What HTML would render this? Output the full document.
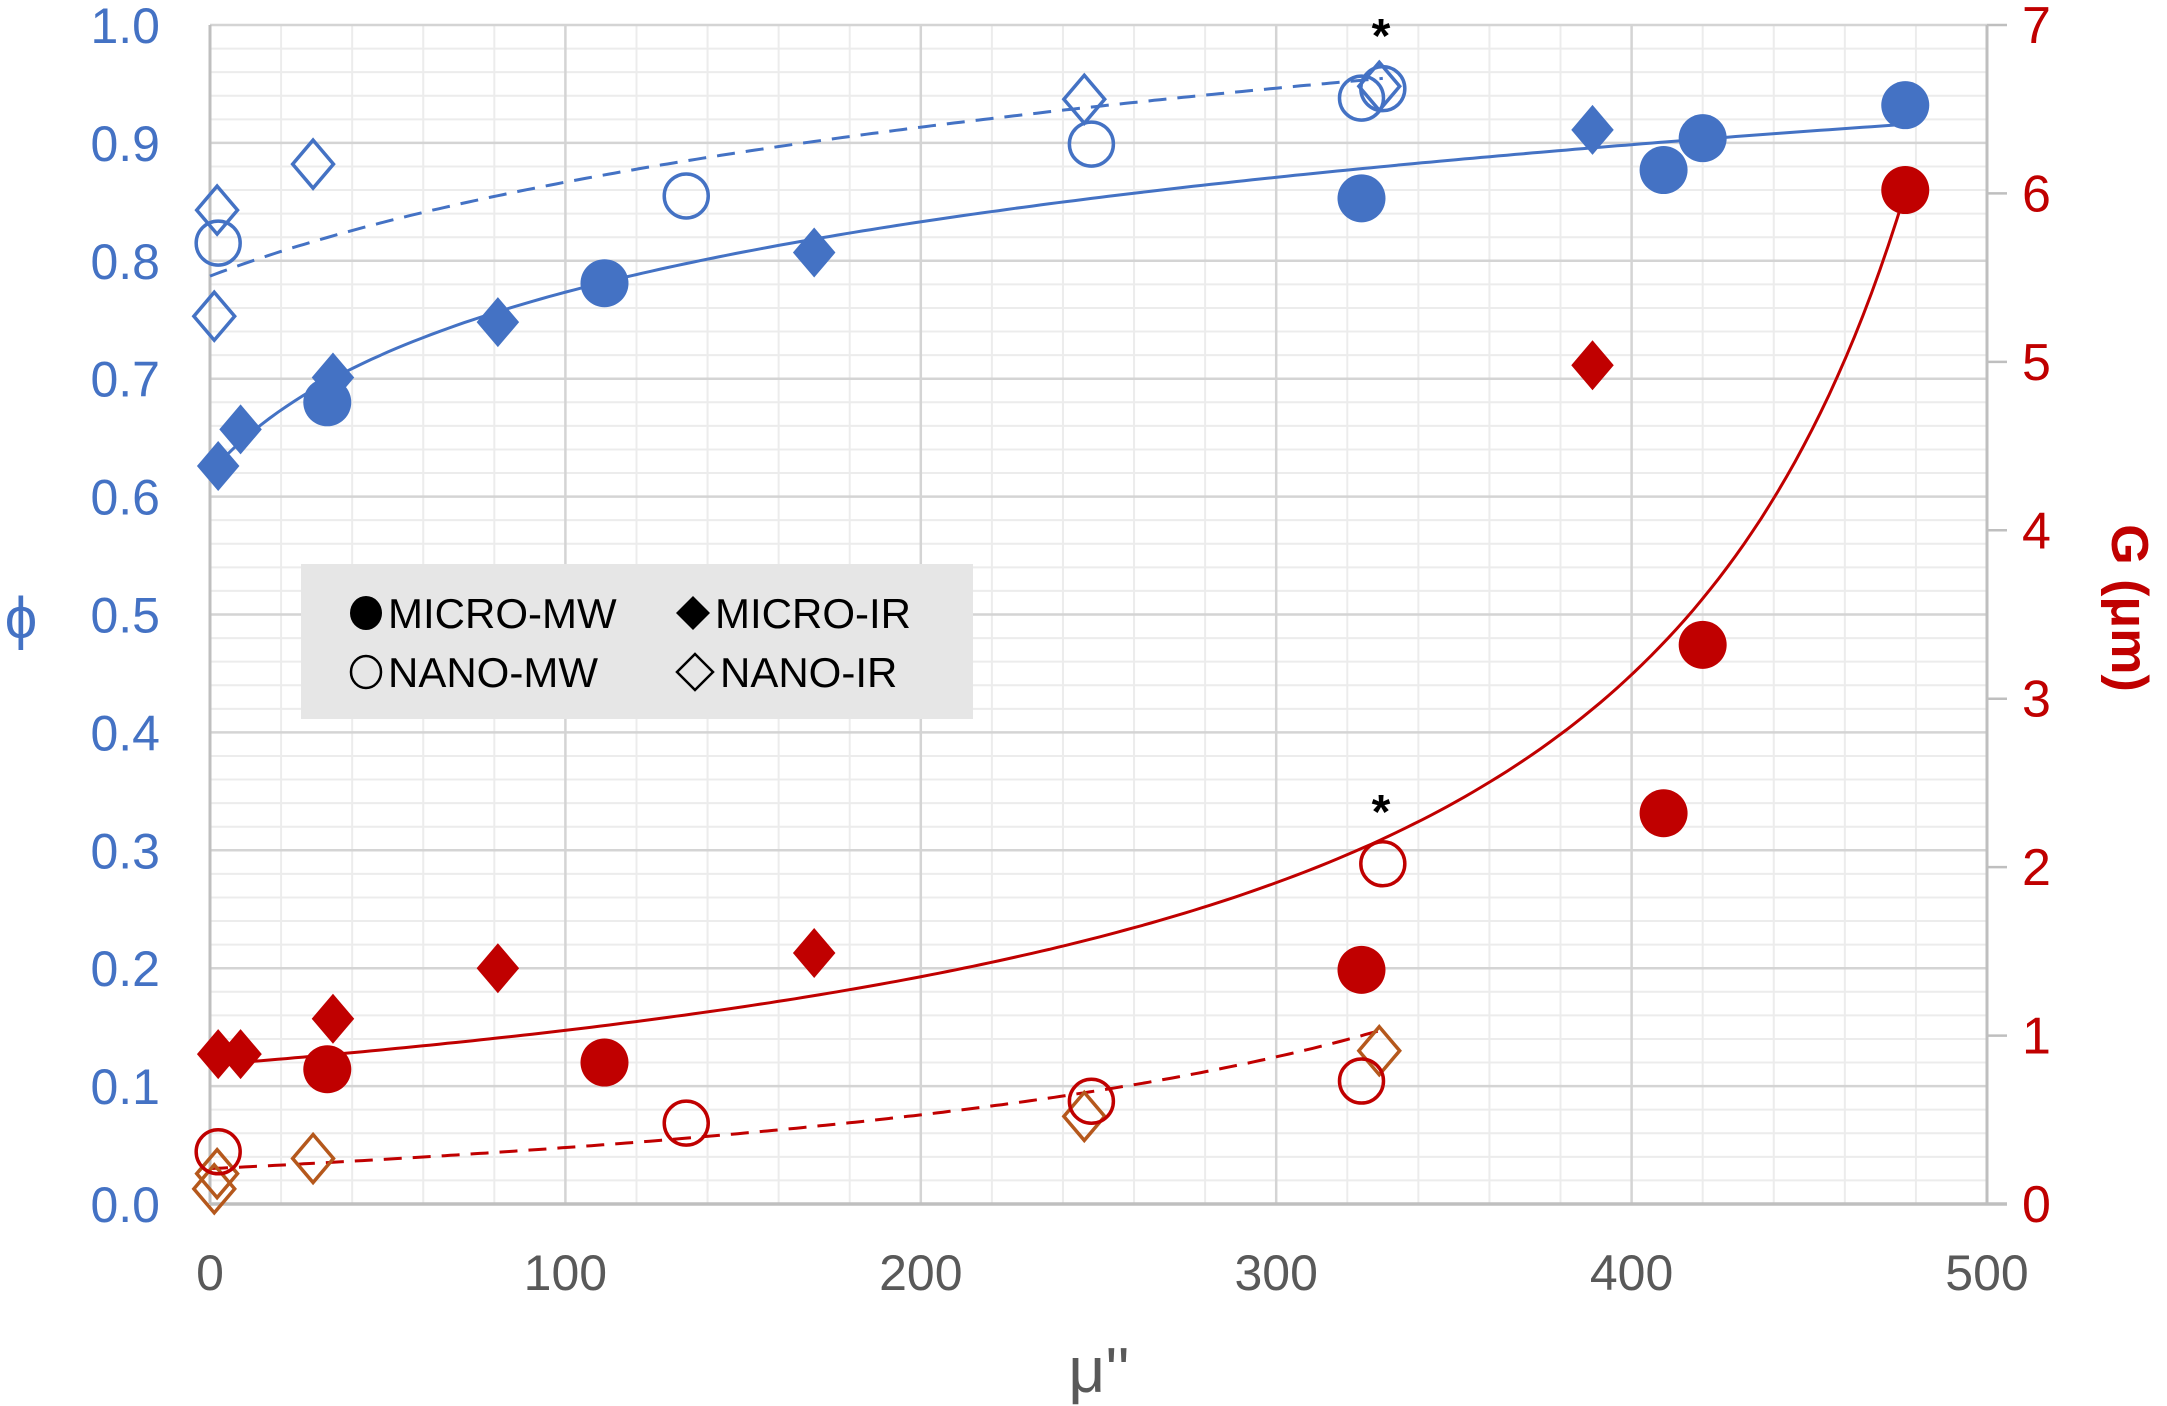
<!DOCTYPE html>
<html><head><meta charset="utf-8"><style>
html,body{margin:0;padding:0;background:#fff;}
svg{display:block;font-family:"Liberation Sans",sans-serif;}
</style></head><body>
<svg id="chart" width="2167" height="1406" viewBox="0 0 2167 1406" xmlns="http://www.w3.org/2000/svg">
<g id="grid"></g>
<g id="axes"></g>
<g id="trends"></g>
<g id="marks"></g>
<text x="21" y="638" font-size="58" fill="#4472c4" text-anchor="middle">ϕ</text>
<text transform="translate(2112,608) rotate(90)" font-size="52" font-weight="bold" fill="#c00000" text-anchor="middle">G (μm)</text>
<text x="1099" y="1392" font-size="64" fill="#595959" text-anchor="middle">μ''</text>
<text x="1381" y="52" font-size="48" font-weight="bold" fill="#000" text-anchor="middle">*</text>
<text x="1381" y="828" font-size="48" font-weight="bold" fill="#000" text-anchor="middle">*</text>
<g>
<rect x="301" y="564" width="672" height="155" fill="#e6e6e6"/>
<g><ellipse cx="366" cy="613" rx="16" ry="17" fill="#000"/><text x="388" y="628" font-size="42" fill="#000">MICRO-MW</text></g>
<g><polygon points="693,596 710,613 693,630 676,613" fill="#000"/><text x="715" y="628" font-size="42" fill="#000">MICRO-IR</text></g>
<g><ellipse cx="366" cy="672" rx="15" ry="16" fill="none" stroke="#000" stroke-width="2.5"/><text x="388" y="687" font-size="42" fill="#000">NANO-MW</text></g>
<g><polygon points="695,654 713,672 695,690 677,672" fill="none" stroke="#000" stroke-width="2.5"/><text x="720" y="687" font-size="42" fill="#000">NANO-IR</text></g>
</g>
</svg>
<script>
// ---- data ----
const phiMicroMwX = [33, 111, 324, 409, 420, 477];
const phiMicroMwY = [0.680, 0.781, 0.853, 0.877, 0.904, 0.932];
const phiMicroIrX = [2.3, 8.6, 34.6, 81, 170, 389];
const phiMicroIrY = [0.626, 0.657, 0.701, 0.748, 0.807, 0.911];
const phiNanoMwX = [2.3, 134, 248, 324, 330];
const phiNanoMwY = [0.815, 0.855, 0.899, 0.938, 0.946];
const phiNanoIrX = [1.2, 2, 29, 246, 329];
const phiNanoIrY = [0.753, 0.843, 0.882, 0.937, 0.948];
const gMicroMwX = [33, 111, 324, 409, 420, 477];
const gMicroMwY = [0.80, 0.84, 1.39, 2.32, 3.32, 6.02];
const gMicroIrX = [2.3, 8.6, 34.6, 81, 170, 389];
const gMicroIrY = [0.89, 0.89, 1.10, 1.40, 1.49, 4.98];
const gNanoMwX = [2.3, 134, 248, 324, 330];
const gNanoMwY = [0.31, 0.48, 0.61, 0.73, 2.02];
const gNanoIrX = [1.2, 2, 29, 246, 329];
const gNanoIrY = [0.09, 0.18, 0.27, 0.52, 0.91];
const xTicks = [0, 100, 200, 300, 400, 500];
const yLeftTicks = ["0.0","0.1","0.2","0.3","0.4","0.5","0.6","0.7","0.8","0.9","1.0"];
const yRightTicks = [0, 1, 2, 3, 4, 5, 6, 7];
// trend model parameters
const phiMicroTrend = {a:0.62, b:0.1046, c:30, x0:0, x1:477};
const phiNanoTrend = {a:0.787, b:0.115, c:100, x0:0, x1:330};
const gMicroTrend = {a:-0.13, b:540, c:565, x0:0, x1:477};
const gNanoTrend = {a:-0.365, b:322, c:560, x0:0, x1:330};

const NS = "http://www.w3.org/2000/svg";
const L = 210, R = 1987, T = 25, B = 1204;
const xs = v => L + (v - 0) / 500 * (R - L);
const yl = v => B - v / 1.0 * (B - T);
const yr = v => B - v / 7 * (B - T);
function mk(tag, attrs, parent) {
  const e = document.createElementNS(NS, tag);
  for (const k in attrs) e.setAttribute(k, attrs[k]);
  parent.appendChild(e); return e;
}
const grid = document.getElementById('grid');
const axes = document.getElementById('axes');
const trends = document.getElementById('trends');
const marks = document.getElementById('marks');

for (let v = 0; v <= 500; v += 20) {
  if (v % 100 === 0) continue;
  const l = mk('line', {x1: xs(v), x2: xs(v), y1: T, y2: B, stroke: '#ececec', 'stroke-width': 2}, grid);
  
  
}
for (let i = 1; i < 50; i++) {
  if (i % 5 === 0) continue;
  const v = i * 0.02;
  const l = mk('line', {x1: L, x2: R, y1: yl(v), y2: yl(v), stroke: '#ececec', 'stroke-width': 2}, grid);
  
  
}
xTicks.forEach(v => {
  const l = mk('line', {x1: xs(v), x2: xs(v), y1: T, y2: B, stroke: '#d4d4d4', 'stroke-width': 2.5}, grid);
  
  
  const t = mk('text', {x: xs(v), y: 1290, 'font-size': 50, fill: '#595959', 'text-anchor': 'middle'}, axes);
  t.textContent = v;
  
  
});
yLeftTicks.forEach(s => {
  const v = parseFloat(s);
  const l = mk('line', {x1: L, x2: R, y1: yl(v), y2: yl(v), stroke: '#d4d4d4', 'stroke-width': 2.5}, grid);
  
  
  const t = mk('text', {x: 160, y: yl(v) + 18, 'font-size': 50, fill: '#4472c4', 'text-anchor': 'end'}, axes);
  t.textContent = s;
  
  
});
yRightTicks.forEach(v => {
  const l = mk('line', {x1: R, x2: R + 20, y1: yr(v), y2: yr(v), stroke: '#bfbfbf', 'stroke-width': 2.5}, axes);
  
  
  const t = mk('text', {x: 2022, y: yr(v) + 18, 'font-size': 52, fill: '#c00000', 'text-anchor': 'start'}, axes);
  t.textContent = v;
  
  
});
const ax1 = mk('line', {x1: L, x2: L, y1: T, y2: B, stroke: '#bfbfbf', 'stroke-width': 3}, axes);


const ax2 = mk('line', {x1: R, x2: R, y1: T, y2: B, stroke: '#bfbfbf', 'stroke-width': 3}, axes);


const ax3 = mk('line', {x1: L, x2: R + 20, y1: B, y2: B, stroke: '#bfbfbf', 'stroke-width': 3.5}, axes);



function logTrend(p, x) { return p.a + p.b * Math.log((x + p.c) / p.c); }
function hypTrend(p, x) { return p.a + p.b / (p.c - x); }
function trendPath(p, f, ysc, color, dash, name) {
  let d = '';
  for (let i = 0; i <= 200; i++) {
    const x = p.x0 + (p.x1 - p.x0) * i / 200;
    d += (i ? 'L' : 'M') + xs(x).toFixed(1) + ',' + ysc(f(p, x)).toFixed(1);
  }
  const e = mk('path', {d: d, fill: 'none', stroke: color, 'stroke-width': 3}, trends);
  if (dash) e.setAttribute('stroke-dasharray', '18,11');
  
  
}
trendPath(phiMicroTrend, logTrend, yl, '#4472c4', false, 'trend-phi-micro');
trendPath(phiNanoTrend, logTrend, yl, '#4472c4', true, 'trend-phi-nano');
trendPath(gMicroTrend, hypTrend, yr, '#c00000', false, 'trend-g-micro');
trendPath(gNanoTrend, hypTrend, yr, '#c00000', true, 'trend-g-nano');

function circles(X, Y, ysc, color, filled, name) {
  X.forEach((x, i) => {
    const e = mk('circle', {cx: xs(x), cy: ysc(Y[i]), r: filled ? 24 : 22,
      fill: filled ? color : 'none', stroke: color, 'stroke-width': filled ? 0 : 3.5}, marks);
    
    
  });
}
function diamonds(X, Y, ysc, color, filled, name) {
  X.forEach((x, i) => {
    const cx = xs(x), cy = ysc(Y[i]), h = filled ? 25 : 24;
    const e = mk('polygon', {points: `${cx},${cy-h} ${cx+h*0.85},${cy} ${cx},${cy+h} ${cx-h*0.85},${cy}`,
      fill: filled ? color : 'none', stroke: color, 'stroke-width': filled ? 0 : 3.5}, marks);
    
    
  });
}
diamonds(phiNanoIrX, phiNanoIrY, yl, '#4472c4', false, 'point-phi-nano-ir');
circles(phiNanoMwX, phiNanoMwY, yl, '#4472c4', false, 'point-phi-nano-mw');
diamonds(phiMicroIrX, phiMicroIrY, yl, '#4472c4', true, 'point-phi-micro-ir');
circles(phiMicroMwX, phiMicroMwY, yl, '#4472c4', true, 'point-phi-micro-mw');
diamonds(gNanoIrX, gNanoIrY, yr, '#b5581c', false, 'point-g-nano-ir');
circles(gNanoMwX, gNanoMwY, yr, '#c00000', false, 'point-g-nano-mw');
diamonds(gMicroIrX, gMicroIrY, yr, '#c00000', true, 'point-g-micro-ir');
circles(gMicroMwX, gMicroMwY, yr, '#c00000', true, 'point-g-micro-mw');
</script>
</body></html>
